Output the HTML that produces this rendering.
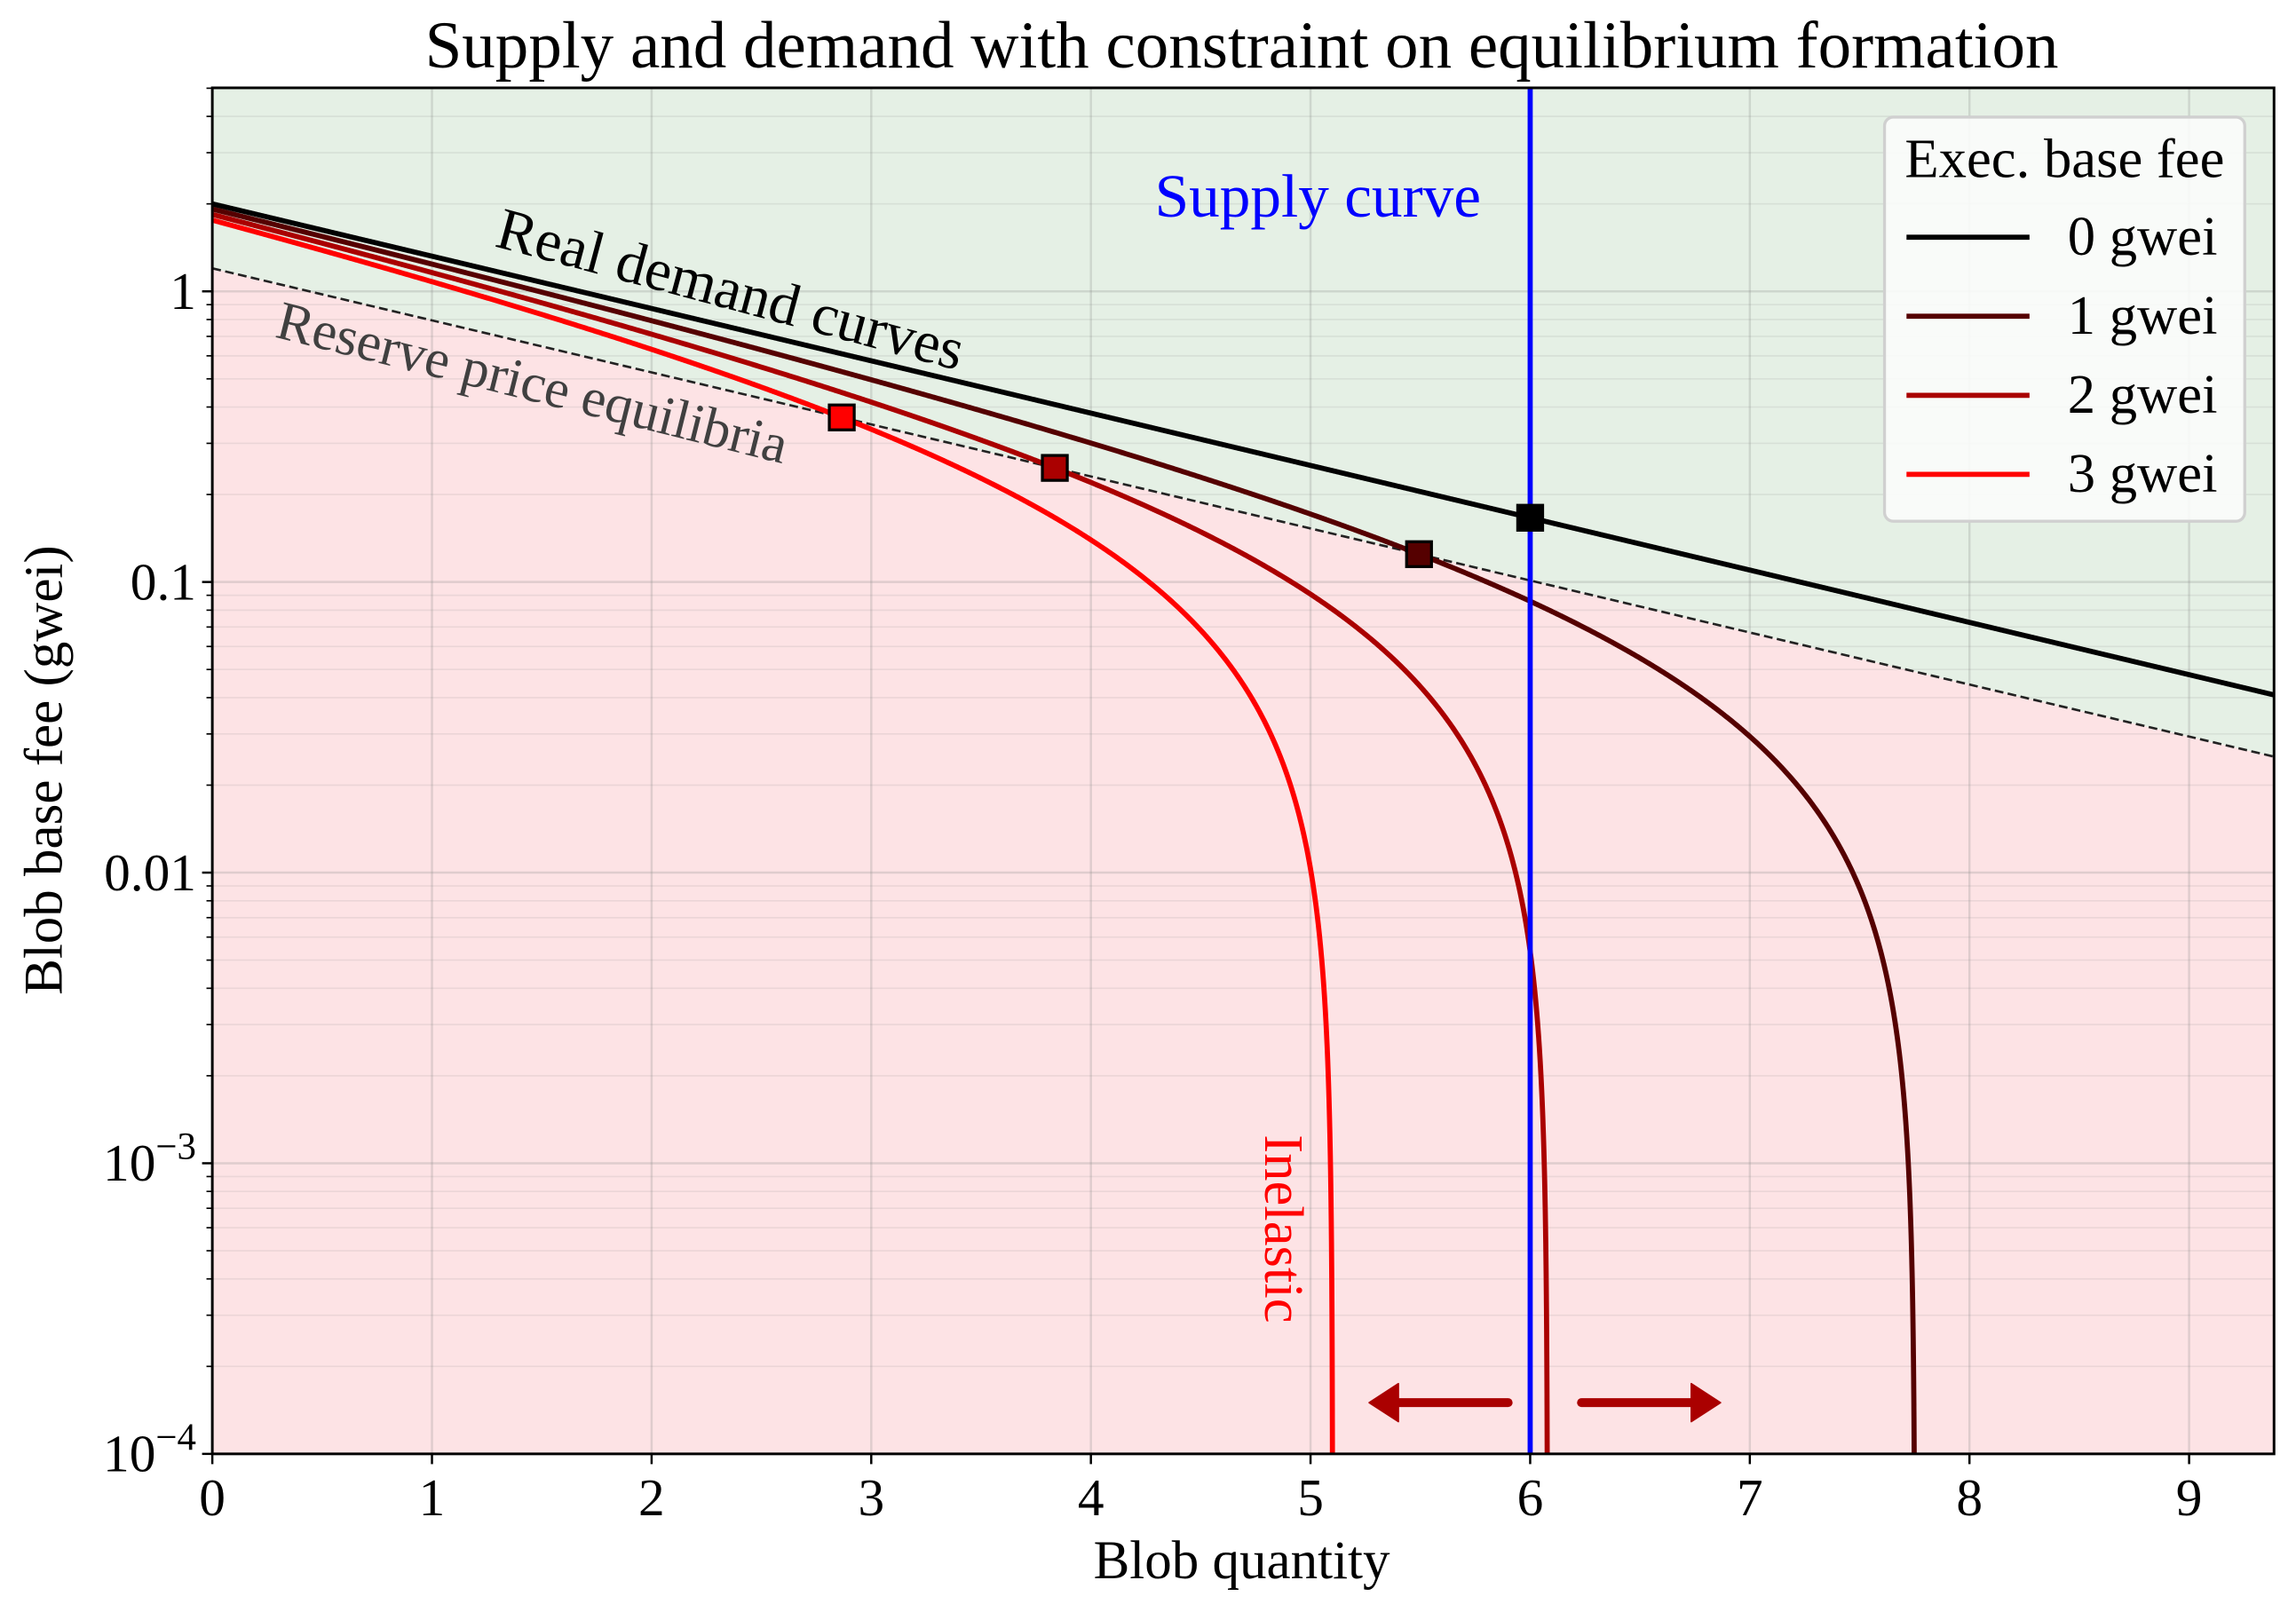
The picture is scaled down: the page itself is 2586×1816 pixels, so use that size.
<!DOCTYPE html>
<html><head><meta charset="utf-8"><style>
html,body{margin:0;padding:0;background:#fff;}
svg{display:block;font-family:"Liberation Serif",serif;}
</style></head><body>
<svg id="s" width="2586" height="1816" viewBox="0 0 1568 1101" preserveAspectRatio="none" xmlns="http://www.w3.org/2000/svg">
<defs><clipPath id="c"><rect x="145" y="60" width="1408" height="933"/></clipPath></defs>
<g id="bg" clip-path="url(#c)"></g>
<g id="grid" clip-path="url(#c)"></g>
<g id="curves" clip-path="url(#c)"></g>
<g id="ax"></g>
<text x="848" y="46" font-size="45.5" text-anchor="middle">Supply and demand with constraint on equilibrium formation</text>
<text x="848" y="1078" font-size="37" text-anchor="middle">Blob quantity</text>
<text transform="translate(42,526) rotate(-90)" font-size="37" text-anchor="middle">Blob base fee (gwei)</text>
<text x="900" y="148" font-size="42" fill="#0000ff" text-anchor="middle">Supply curve</text>
<text transform="translate(337,168) rotate(15)" font-size="40.5">Real demand curves</text>
<text transform="translate(187,230) rotate(14)" font-size="37.5" fill="#404040">Reserve price equilibria</text>
<text transform="translate(864,775) rotate(90)" font-size="38" fill="#ff0000">Inelastic</text>
<g fill="#aa0000" stroke="#aa0000">
<line x1="1030" y1="958" x2="950" y2="958" stroke-width="6" stroke-linecap="round"/>
<polygon points="935,958 955,945 955,971" stroke-width="1" stroke-linejoin="round"/>
<line x1="1080" y1="958" x2="1160" y2="958" stroke-width="6" stroke-linecap="round"/>
<polygon points="1175,958 1155,945 1155,971" stroke-width="1" stroke-linejoin="round"/>
</g>
<g id="leg">
<rect x="1287" y="80" width="246" height="276" rx="6" fill="#fbfcfb" fill-opacity="0.9" stroke="#d0d0d0" stroke-width="2"/>
<text x="1410" y="121" font-size="38" text-anchor="middle">Exec. base fee</text>
<line x1="1302" y1="162" x2="1386" y2="162" stroke="#000" stroke-width="3.5"/>
<text x="1412" y="174" font-size="38">0 gwei</text>
<line x1="1302" y1="216" x2="1386" y2="216" stroke="#550000" stroke-width="3.5"/>
<text x="1412" y="228" font-size="38">1 gwei</text>
<line x1="1302" y1="270" x2="1386" y2="270" stroke="#aa0000" stroke-width="3.5"/>
<text x="1412" y="282" font-size="38">2 gwei</text>
<line x1="1302" y1="324" x2="1386" y2="324" stroke="#ff0000" stroke-width="3.5"/>
<text x="1412" y="336" font-size="38">3 gwei</text>
</g>
</svg>
<script>
var NS="http://www.w3.org/2000/svg";
function X(q){return 145+150*q;}
function Y(p){return 199-198.5*Math.log10(p);}
function el(par,tag,a,txt){var e=document.createElementNS(NS,tag);for(var k in a)e.setAttribute(k,a[k]);if(txt!==undefined)e.textContent=txt;document.getElementById(par).appendChild(e);return e;}
var QM=9.39;
function p0(q){return 2*Math.pow(10,-0.18*q);}
function res(q){return 1.2*Math.pow(10,-0.179*q);}
var d="M145,60 L1553,60 L1553,"+Y(res(QM))+" L145,"+Y(res(0))+"Z";
el("bg","path",{d:d,fill:"#e5f0e5"});
d="M145,993 L1553,993 L1553,"+Y(res(QM))+" L145,"+Y(res(0))+"Z";
el("bg","path",{d:d,fill:"#fde3e5"});
for(var i=0;i<=9;i++)el("grid","line",{x1:X(i),x2:X(i),y1:60,y2:993,stroke:"#888",'stroke-opacity':0.25,'stroke-width':1.5});
for(var e=-4;e<=0;e++){for(var m=1;m<10;m++){var p=m*Math.pow(10,e);var y=Y(p);if(y<60)continue;
el("grid","line",{x1:145,x2:1553,y1:y,y2:y,stroke:"#888",'stroke-opacity':m==1?0.25:0.15,'stroke-width':m==1?1.5:1});}}
el("curves","line",{x1:X(0),y1:Y(res(0)),x2:X(QM),y2:Y(res(QM)),stroke:"#222",'stroke-width':1.6,'stroke-dasharray':"6,3"});
var cols=["#000000","#550000","#aa0000","#ff0000"];
var k=0.0805;
for(var c=3;c>=0;c--){
 var pts=[];var qs=[];
 for(var q=0;q<=QM;q+=0.005)qs.push(q);
 var qz=c>0?Math.log10(2/(k*c))/0.18:99;
 if(c>0){for(var j=1;j<=400;j++){qs.push(qz-Math.pow(10,-j/40));}qs.sort(function(a,b){return a-b;});}
 for(var t=0;t<qs.length;t++){var q=qs[t];if(q>QM||q>=qz)continue;var p=p0(q)-k*c;if(p<=0)continue;var y=Y(p);if(y>1000)y=1000;pts.push(X(q).toFixed(2)+","+y.toFixed(2));if(y>=1000)break;}
 if(c>0)pts.push(X(qz).toFixed(2)+",1000");
 el("curves","polyline",{points:pts.join(" "),fill:"none",stroke:cols[c],'stroke-width':3.5});
}
el("curves","line",{x1:X(6),x2:X(6),y1:60,y2:993,stroke:"#0000ff",'stroke-width':3.5});
function sq(q,p,col){el("curves","rect",{x:X(q)-8.5,y:Y(p)-8.5,width:17,height:17,fill:col,stroke:"#000",'stroke-width':2});}
function eq(c){var lo=0,hi=9;for(var i=0;i<60;i++){var m=(lo+hi)/2;if(p0(m)-k*c>res(m))lo=m;else hi=m;}return lo;}
for(var c=1;c<=3;c++){var q=eq(c);sq(q,res(q),cols[c]);}
sq(6,p0(6),"#000");
el("ax","rect",{x:145,y:60,width:1408,height:933,fill:"none",stroke:"#000",'stroke-width':1.8});
for(var i=0;i<=9;i++){el("ax","line",{x1:X(i),x2:X(i),y1:993,y2:1000,stroke:"#000",'stroke-width':1.5});
 el("ax","text",{x:X(i),y:1035,'font-size':36,'text-anchor':"middle"},String(i));}
for(var e=-4;e<=0;e++){for(var m=1;m<10;m++){var y=Y(m*Math.pow(10,e));if(y<60)continue;
 el("ax","line",{x1:m==1?138:141,x2:145,y1:y,y2:y,stroke:"#000",'stroke-width':m==1?1.5:1});}}
var lab={"0":"1","-1":"0.1","-2":"0.01"};
for(var e=-2;e<=0;e++)el("ax","text",{x:134,y:Y(Math.pow(10,e))+12,'font-size':36,'text-anchor':"end"},lab[e]);
for(var e=-4;e<=-3;e++){var t=el("ax","text",{x:134,y:Y(Math.pow(10,e))+12,'font-size':36,'text-anchor':"end"},"10");
 var ts=document.createElementNS(NS,"tspan");ts.setAttribute("dy","-15");ts.setAttribute("font-size","26");ts.textContent="\u2212"+(-e);t.appendChild(ts);}
</script>
</body></html>
